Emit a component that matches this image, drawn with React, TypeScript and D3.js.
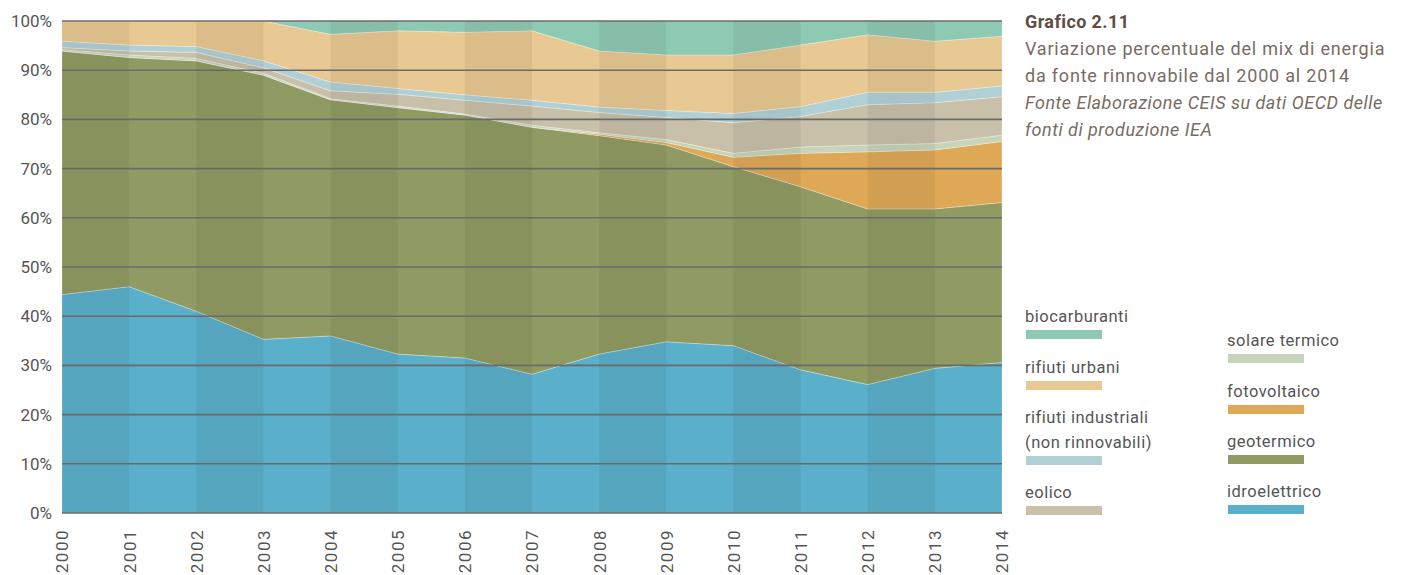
import React, { useRef, useEffect } from "react";
import * as d3 from "d3";

const years = [2000, 2001, 2002, 2003, 2004, 2005, 2006, 2007, 2008, 2009, 2010, 2011, 2012, 2013, 2014];

// shares in %, bottom to top
const idroelettrico = [44.4, 46.0, 41.0, 35.3, 36.0, 32.3, 31.5, 28.2, 32.3, 34.8, 34.0, 29.1, 26.1, 29.4, 30.6];
const geotermico = [49.5, 46.6, 50.9, 53.7, 48.0, 50.1, 49.4, 50.2, 44.4, 40.0, 36.4, 37.2, 35.7, 32.4, 32.5];
const fotovoltaico = [0, 0, 0, 0, 0, 0, 0, 0, 0.3, 0.5, 1.9, 6.8, 11.6, 12.0, 12.4];
const solareTermico = [0.3, 0.5, 0.5, 0.4, 0.2, 0.3, 0.2, 0.4, 0.3, 0.6, 0.8, 1.3, 1.4, 1.3, 1.3];
const eolico = [0.4, 0.8, 1.2, 1.1, 1.6, 2.4, 2.8, 3.9, 4.1, 4.5, 6.2, 6.2, 8.2, 8.3, 7.8];
const rifiutiIndustriali = [1.3, 1.2, 1.2, 1.4, 1.8, 1.2, 1.1, 1.2, 1.1, 1.4, 1.9, 2.0, 2.5, 2.1, 2.2];
const rifiutiUrbani = [4.1, 4.9, 5.2, 8.1, 9.7, 11.7, 12.7, 14.1, 11.4, 11.3, 11.9, 12.5, 11.7, 10.4, 10.1];
const biocarburanti = [0, 0, 0, 0, 2.7, 2.0, 2.3, 2.0, 6.1, 6.9, 6.9, 4.9, 2.8, 4.1, 3.1];

const keys = ["idro", "geo", "pv", "sol", "eol", "ind", "urb", "bio"];
const colors = {
  idro: "#5aafca",
  geo: "#8f9b63",
  pv: "#dfa856",
  sol: "#c6d4b9",
  eol: "#c8c0a9",
  ind: "#b0d0d5",
  urb: "#e8c893",
  bio: "#8ecab3",
};

const yTicks = [0, 10, 20, 30, 40, 50, 60, 70, 80, 90, 100];

const legendItems = [
  { key: "bio", lines: ["biocarburanti"], col: 0, y: 322 },
  { key: "urb", lines: ["rifiuti urbani"], col: 0, y: 373 },
  { key: "ind", lines: ["rifiuti industriali", "(non rinnovabili)"], col: 0, y: 423 },
  { key: "eol", lines: ["eolico"], col: 0, y: 498 },
  { key: "sol", lines: ["solare termico"], col: 1, y: 346 },
  { key: "pv", lines: ["fotovoltaico"], col: 1, y: 397 },
  { key: "geo", lines: ["geotermico"], col: 1, y: 447 },
  { key: "idro", lines: ["idroelettrico"], col: 1, y: 497 },
];

const titleLines = [
  "Variazione percentuale del mix di energia",
  "da fonte rinnovabile dal 2000 al 2014",
];
const sourceLines = ["Fonte Elaborazione CEIS su dati OECD delle", "fonti di produzione IEA"];

const font = "Roboto, 'Noto Sans', sans-serif";

const Chart = () => {
  const ref = useRef(null);

  useEffect(() => {
    const width = 1411;
    const height = 575;
    const margin = { top: 21, right: 409, bottom: 62, left: 62 };

    const data = years.map((yr, i) => ({
      year: yr,
      idro: idroelettrico[i],
      geo: geotermico[i],
      pv: fotovoltaico[i],
      sol: solareTermico[i],
      eol: eolico[i],
      ind: rifiutiIndustriali[i],
      urb: rifiutiUrbani[i],
      bio: biocarburanti[i],
    }));

    const root = d3.select(ref.current);
    root.selectAll("*").remove();

    const svg = root
      .append("svg")
      .attr("width", width)
      .attr("height", height)
      .style("position", "absolute")
      .style("left", 0)
      .style("top", 0)
      .style("font-family", font);

    const x = d3
      .scaleLinear()
      .domain([2000, 2014])
      .range([margin.left, width - margin.right]);

    const y = d3
      .scaleLinear()
      .domain([0, 100])
      .range([height - margin.bottom, margin.top]);

    const series = d3.stack().keys(keys)(data);

    const area = d3
      .area()
      .x((d) => x(d.data.year))
      .y0((d) => y(d[0]))
      .y1((d) => y(d[1]));

    svg
      .append("g")
      .selectAll("path")
      .data(series)
      .join("path")
      .attr("d", area)
      .attr("fill", (d) => colors[d.key])
      .attr("stroke", "#ffffff")
      .attr("stroke-opacity", 0.35)
      .attr("stroke-width", 0.8);

    // alternating darker year bands
    svg
      .append("g")
      .selectAll("rect")
      .data(years.slice(0, -1).filter((_, i) => i % 2 === 0))
      .join("rect")
      .attr("x", (d) => x(d))
      .attr("y", y(100))
      .attr("width", (d) => x(d + 1) - x(d))
      .attr("height", y(0) - y(100))
      .attr("fill", "#000")
      .attr("opacity", 0.055);

    // gridlines
    svg
      .append("g")
      .selectAll("line")
      .data(yTicks)
      .join("line")
      .attr("x1", x(2000))
      .attr("x2", x(2014))
      .attr("y1", (d) => y(d))
      .attr("y2", (d) => y(d))
      .attr("stroke", "#6a6a6a")
      .attr("stroke-width", 1.6);

    const yAxis = svg
      .append("g")
      .attr("transform", `translate(${x(2000)},0)`)
      .call(
        d3
          .axisLeft(y)
          .tickValues(yTicks)
          .tickSize(0)
          .tickPadding(10)
          .tickFormat((d) => d + "%")
      );
    yAxis.select(".domain").remove();
    yAxis
      .selectAll("text")
      .attr("fill", "#555")
      .attr("font-size", 17)
      .attr("font-family", font);

    const xAxis = svg
      .append("g")
      .attr("transform", `translate(0,${y(0)})`)
      .call(d3.axisBottom(x).tickValues(years).tickSize(0).tickFormat(d3.format("d")));
    xAxis.select(".domain").remove();
    xAxis
      .selectAll("text")
      .attr("fill", "#555")
      .attr("font-size", 17)
      .attr("font-family", font)
      .attr("letter-spacing", 1.5)
      .attr("transform", "rotate(-90)")
      .attr("text-anchor", "end")
      .attr("dy", "0.35em")
      .attr("dx", 0)
      .attr("x", -16)
      .attr("y", 0);

    // title block
    const tx = 1025;
    svg
      .append("text")
      .attr("x", tx)
      .attr("y", 28)
      .attr("font-size", 18)
      .attr("font-weight", "bold")
      .attr("letter-spacing", 0.4)
      .attr("fill", "#5e4d42")
      .text("Grafico 2.11");

    svg
      .append("g")
      .selectAll("text")
      .data(titleLines)
      .join("text")
      .attr("x", tx)
      .attr("y", (d, i) => 55 + i * 27)
      .attr("font-size", 18)
      .attr("letter-spacing", 0.8)
      .attr("fill", "#786c63")
      .text((d) => d);

    svg
      .append("g")
      .selectAll("text")
      .data(sourceLines)
      .join("text")
      .attr("x", tx)
      .attr("y", (d, i) => 109 + i * 27)
      .attr("font-size", 18)
      .attr("font-style", "italic")
      .attr("letter-spacing", 0.5)
      .attr("fill", "#786c63")
      .text((d) => d);

    // legend
    const legend = svg.append("g");
    const colX = [1025, 1227];
    legendItems.forEach((item) => {
      const g = legend.append("g");
      item.lines.forEach((line, i) => {
        g.append("text")
          .attr("x", colX[item.col])
          .attr("y", item.y + i * 25)
          .attr("font-size", 16.5)
          .attr("letter-spacing", 0.5)
          .attr("fill", "#555")
          .text(line);
      });
      g.append("rect")
        .attr("x", colX[item.col] + 1)
        .attr("y", item.y + (item.lines.length - 1) * 25 + 8)
        .attr("width", 76)
        .attr("height", 9)
        .attr("fill", colors[item.key]);
    });
  }, []);

  return <div ref={ref} />;
};

export default function App() {
  return <Chart />;
}
